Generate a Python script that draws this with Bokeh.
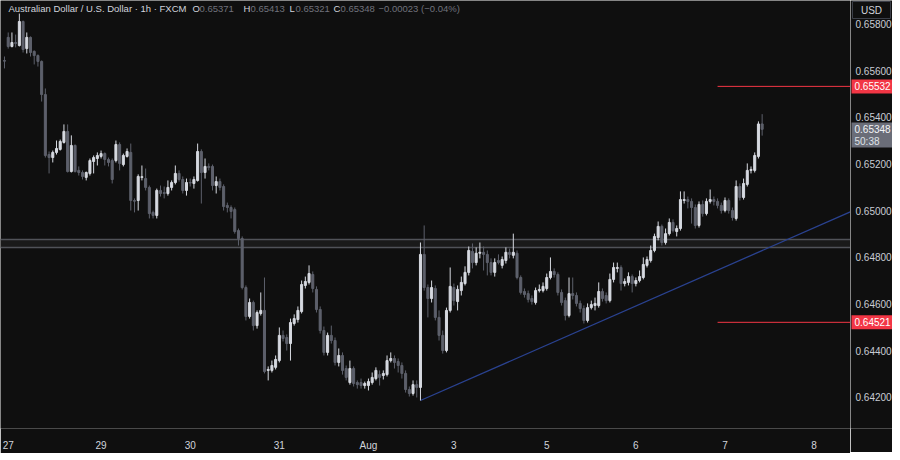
from bokeh.plotting import figure
from bokeh.layouts import row
from bokeh.models import ColumnDataSource, FixedTicker, Label, Range1d
from bokeh.core.properties import value
from bokeh.embed import file_html
from bokeh.resources import INLINE

BG = "#0f0f0f"
UP = "#d6d9e0"
DOWN = "#5d606b"
TXT = "#d1d4dc"
FONT = "Liberation Sans"

# ---- data (AUD/USD, 1h, FXCM) ----
day_labels = ["27", "29", "30", "31", "Aug", "3", "5", "6", "7", "8"]
day_ticks = [1, 26, 50, 74, 98, 121, 146, 170, 194, 218]
price_ticks = [0.642, 0.644, 0.646, 0.648, 0.650, 0.652, 0.654, 0.656, 0.658]

opens = [
    0.65643, 0.65742, 0.65703, 0.65720, 0.65707, 0.65810, 0.65694, 0.65742, 0.65682, 0.65664,
    0.65639, 0.65497, 0.65240, 0.65227, 0.65249, 0.65262, 0.65292, 0.65339, 0.65167, 0.65279,
    0.65172, 0.65163, 0.65142, 0.65159, 0.65210, 0.65223, 0.65232, 0.65244, 0.65219, 0.65214,
    0.65214, 0.65283, 0.65197, 0.65232, 0.65249, 0.65043, 0.65043, 0.65142, 0.65137, 0.65099,
    0.64992, 0.64979, 0.65086, 0.65077, 0.65073, 0.65099, 0.65120, 0.65159, 0.65133, 0.65086,
    0.65120, 0.65116, 0.65129, 0.65253, 0.65163, 0.65189, 0.65189, 0.65107, 0.65124, 0.65103,
    0.65022, 0.65013, 0.65004, 0.64914, 0.64880, 0.64670, 0.64546, 0.64606, 0.64507, 0.64559,
    0.64572, 0.64315, 0.64315, 0.64328, 0.64357, 0.64465, 0.64456, 0.64430, 0.64516, 0.64533,
    0.64567, 0.64679, 0.64692, 0.64726, 0.64662, 0.64576, 0.64486, 0.64392, 0.64465, 0.64443,
    0.64349, 0.64379, 0.64323, 0.64263, 0.64323, 0.64263, 0.64263, 0.64250, 0.64250, 0.64263,
    0.64280, 0.64297, 0.64293, 0.64297, 0.64357, 0.64366, 0.64353, 0.64336, 0.64302, 0.64233,
    0.64216, 0.64254, 0.64242, 0.64812, 0.64670, 0.64623, 0.64666, 0.64542, 0.64465, 0.64400,
    0.64572, 0.64670, 0.64610, 0.64657, 0.64687, 0.64735, 0.64825, 0.64777, 0.64817, 0.64821,
    0.64812, 0.64777, 0.64735, 0.64786, 0.64765, 0.64786, 0.64821, 0.64808, 0.64817, 0.64713,
    0.64653, 0.64644, 0.64623, 0.64606, 0.64657, 0.64657, 0.64666, 0.64713, 0.64739, 0.64726,
    0.64649, 0.64614, 0.64550, 0.64644, 0.64636, 0.64602, 0.64580, 0.64529, 0.64584, 0.64593,
    0.64593, 0.64653, 0.64636, 0.64614, 0.64705, 0.64752, 0.64756, 0.64687, 0.64692, 0.64717,
    0.64687, 0.64700, 0.64713, 0.64765, 0.64786, 0.64829, 0.64884, 0.64932, 0.64863, 0.64901,
    0.64949, 0.64910, 0.64923, 0.65043, 0.65047, 0.65039, 0.65013, 0.64936, 0.65026, 0.64987,
    0.65039, 0.65047, 0.65039, 0.65022, 0.65000, 0.65043, 0.65000, 0.64966, 0.65103, 0.65056,
    0.65112, 0.65172, 0.65172, 0.65232, 0.65371,
]
highs = [
    0.65660, 0.65763, 0.65763, 0.65754, 0.65844, 0.65814, 0.65763, 0.65746, 0.65686, 0.65669,
    0.65643, 0.65523, 0.65253, 0.65257, 0.65300, 0.65304, 0.65369, 0.65369, 0.65322, 0.65283,
    0.65189, 0.65172, 0.65167, 0.65223, 0.65236, 0.65249, 0.65257, 0.65249, 0.65227, 0.65223,
    0.65300, 0.65292, 0.65244, 0.65266, 0.65287, 0.65052, 0.65155, 0.65193, 0.65180, 0.65107,
    0.65000, 0.65094, 0.65107, 0.65103, 0.65129, 0.65129, 0.65193, 0.65172, 0.65146, 0.65137,
    0.65137, 0.65146, 0.65287, 0.65262, 0.65223, 0.65202, 0.65197, 0.65146, 0.65137, 0.65112,
    0.65034, 0.65022, 0.65013, 0.64923, 0.64889, 0.64679, 0.64623, 0.64614, 0.64572, 0.64649,
    0.64713, 0.64332, 0.64357, 0.64379, 0.64499, 0.64486, 0.64469, 0.64537, 0.64555, 0.64589,
    0.64700, 0.64717, 0.64765, 0.64739, 0.64675, 0.64589, 0.64503, 0.64477, 0.64507, 0.64456,
    0.64409, 0.64392, 0.64336, 0.64357, 0.64332, 0.64272, 0.64280, 0.64267, 0.64280, 0.64306,
    0.64328, 0.64315, 0.64315, 0.64379, 0.64392, 0.64379, 0.64366, 0.64349, 0.64315, 0.64246,
    0.64272, 0.64272, 0.64863, 0.64936, 0.64683, 0.64700, 0.64679, 0.64572, 0.64486, 0.64584,
    0.64756, 0.64687, 0.64679, 0.64717, 0.64761, 0.64846, 0.64859, 0.64842, 0.64863, 0.64846,
    0.64829, 0.64795, 0.64795, 0.64812, 0.64803, 0.64842, 0.64837, 0.64901, 0.64829, 0.64722,
    0.64666, 0.64657, 0.64636, 0.64670, 0.64683, 0.64692, 0.64730, 0.64799, 0.64752, 0.64735,
    0.64662, 0.64627, 0.64713, 0.64713, 0.64649, 0.64614, 0.64593, 0.64602, 0.64614, 0.64627,
    0.64692, 0.64666, 0.64649, 0.64730, 0.64777, 0.64777, 0.64765, 0.64709, 0.64735, 0.64726,
    0.64713, 0.64743, 0.64799, 0.64803, 0.64850, 0.64901, 0.64953, 0.64940, 0.64923, 0.64966,
    0.64962, 0.64936, 0.65082, 0.65082, 0.65060, 0.65052, 0.65026, 0.65039, 0.65043, 0.65052,
    0.65090, 0.65060, 0.65052, 0.65034, 0.65056, 0.65052, 0.65013, 0.65129, 0.65116, 0.65137,
    0.65202, 0.65189, 0.65249, 0.65382, 0.65413,
]
lows = [
    0.65609, 0.65694, 0.65699, 0.65699, 0.65703, 0.65677, 0.65673, 0.65660, 0.65626, 0.65617,
    0.65467, 0.65227, 0.65159, 0.65206, 0.65240, 0.65257, 0.65287, 0.65163, 0.65163, 0.65163,
    0.65150, 0.65133, 0.65129, 0.65150, 0.65159, 0.65193, 0.65223, 0.65193, 0.65189, 0.65116,
    0.65206, 0.65172, 0.65189, 0.65227, 0.65000, 0.64992, 0.65000, 0.65129, 0.65086, 0.64966,
    0.64966, 0.64966, 0.65060, 0.65052, 0.65064, 0.65086, 0.65112, 0.65124, 0.65073, 0.65064,
    0.65103, 0.65094, 0.65124, 0.65030, 0.65137, 0.65172, 0.65086, 0.65073, 0.65086, 0.65000,
    0.64992, 0.64966, 0.64901, 0.64850, 0.64662, 0.64529, 0.64537, 0.64486, 0.64494, 0.64550,
    0.64302, 0.64272, 0.64306, 0.64319, 0.64349, 0.64439, 0.64400, 0.64357, 0.64507, 0.64520,
    0.64559, 0.64666, 0.64683, 0.64649, 0.64563, 0.64473, 0.64379, 0.64379, 0.64430, 0.64336,
    0.64332, 0.64297, 0.64272, 0.64254, 0.64246, 0.64237, 0.64237, 0.64237, 0.64229, 0.64254,
    0.64272, 0.64250, 0.64276, 0.64289, 0.64349, 0.64323, 0.64306, 0.64280, 0.64220, 0.64203,
    0.64207, 0.64199, 0.64186, 0.64657, 0.64542, 0.64606, 0.64529, 0.64443, 0.64387, 0.64392,
    0.64563, 0.64593, 0.64572, 0.64636, 0.64679, 0.64722, 0.64752, 0.64765, 0.64795, 0.64743,
    0.64722, 0.64722, 0.64717, 0.64769, 0.64752, 0.64773, 0.64795, 0.64795, 0.64705, 0.64640,
    0.64627, 0.64606, 0.64597, 0.64597, 0.64649, 0.64649, 0.64657, 0.64705, 0.64713, 0.64636,
    0.64593, 0.64529, 0.64542, 0.64619, 0.64589, 0.64563, 0.64516, 0.64520, 0.64576, 0.64572,
    0.64584, 0.64610, 0.64602, 0.64606, 0.64692, 0.64735, 0.64657, 0.64675, 0.64679, 0.64649,
    0.64675, 0.64692, 0.64705, 0.64756, 0.64777, 0.64821, 0.64872, 0.64850, 0.64854, 0.64893,
    0.64906, 0.64889, 0.64914, 0.65030, 0.65009, 0.64944, 0.64923, 0.64927, 0.64974, 0.64979,
    0.65030, 0.65022, 0.65009, 0.64987, 0.64992, 0.64987, 0.64957, 0.64957, 0.65043, 0.65047,
    0.65103, 0.65159, 0.65163, 0.65223, 0.65321,
]
closes = [
    0.65640, 0.65703, 0.65720, 0.65716, 0.65810, 0.65690, 0.65742, 0.65677, 0.65664, 0.65639,
    0.65497, 0.65236, 0.65227, 0.65249, 0.65266, 0.65296, 0.65339, 0.65167, 0.65279, 0.65167,
    0.65163, 0.65146, 0.65163, 0.65214, 0.65227, 0.65236, 0.65244, 0.65219, 0.65206, 0.65133,
    0.65283, 0.65202, 0.65236, 0.65253, 0.65043, 0.65040, 0.65146, 0.65145, 0.65099, 0.64987,
    0.64979, 0.65086, 0.65073, 0.65073, 0.65099, 0.65120, 0.65159, 0.65133, 0.65086, 0.65120,
    0.65118, 0.65133, 0.65253, 0.65163, 0.65189, 0.65184, 0.65107, 0.65124, 0.65099, 0.65017,
    0.65013, 0.64996, 0.64910, 0.64880, 0.64670, 0.64546, 0.64606, 0.64507, 0.64563, 0.64572,
    0.64310, 0.64319, 0.64336, 0.64362, 0.64465, 0.64452, 0.64430, 0.64520, 0.64537, 0.64572,
    0.64683, 0.64696, 0.64730, 0.64666, 0.64576, 0.64486, 0.64392, 0.64465, 0.64443, 0.64349,
    0.64379, 0.64315, 0.64285, 0.64323, 0.64259, 0.64254, 0.64250, 0.64259, 0.64267, 0.64285,
    0.64315, 0.64285, 0.64302, 0.64357, 0.64366, 0.64349, 0.64336, 0.64302, 0.64233, 0.64216,
    0.64254, 0.64242, 0.64812, 0.64670, 0.64623, 0.64670, 0.64542, 0.64465, 0.64400, 0.64572,
    0.64675, 0.64614, 0.64662, 0.64692, 0.64735, 0.64829, 0.64777, 0.64817, 0.64821, 0.64812,
    0.64777, 0.64735, 0.64777, 0.64777, 0.64790, 0.64821, 0.64812, 0.64821, 0.64713, 0.64649,
    0.64640, 0.64619, 0.64610, 0.64657, 0.64662, 0.64675, 0.64713, 0.64739, 0.64726, 0.64649,
    0.64606, 0.64550, 0.64644, 0.64636, 0.64602, 0.64580, 0.64529, 0.64584, 0.64597, 0.64602,
    0.64653, 0.64623, 0.64614, 0.64705, 0.64756, 0.64756, 0.64687, 0.64696, 0.64717, 0.64687,
    0.64700, 0.64717, 0.64769, 0.64790, 0.64829, 0.64889, 0.64932, 0.64863, 0.64901, 0.64949,
    0.64914, 0.64923, 0.65047, 0.65047, 0.65039, 0.65013, 0.64936, 0.65026, 0.64987, 0.65039,
    0.65047, 0.65039, 0.65022, 0.65000, 0.65043, 0.65000, 0.64970, 0.65103, 0.65056, 0.65116,
    0.65172, 0.65176, 0.65236, 0.65371, 0.65348,
]

# drawings on the chart
zone_low, zone_high = 0.64843, 0.64878          # grey S/R zone
level_prices = [0.65532, 0.64521]                 # red horizontal levels
level_start = 192                                 # bar where the levels begin
trend_idx = [112, 230]                            # rising trendline anchors (bar index)
trend_px = [0.64186, 0.65010]
countdown = "50:38"
currency = "USD"
title_text = "Australian Dollar / U.S. Dollar \u00b7 1h \u00b7 FXCM"

# ---- layout constants ----
FRAME_H = 428
Y_TOP, Y_BOT = 0.659, 0.64066
PX = (Y_TOP - Y_BOT) / FRAME_H       # price per screen pixel
yr = Range1d(Y_BOT, Y_TOP)

# ---- main pane ----
n = len(closes)
src = ColumnDataSource(dict(
    x=list(range(n)), high=highs, low=lows,
    top=[max(o, c) for o, c in zip(opens, closes)],
    bottom=[min(o, c) for o, c in zip(opens, closes)],
    color=[UP if c >= o else DOWN for o, c in zip(opens, closes)],
))

p = figure(frame_width=850, frame_height=FRAME_H, output_backend="svg", toolbar_location=None,
           x_range=Range1d(-1.077, 227.79), y_range=yr, y_axis_location=None,
           background_fill_color=BG, border_fill_color=BG,
           min_border_left=0, min_border_top=0, min_border_right=0, min_border_bottom=24,
           outline_line_color=None)
p.grid.visible = False

p.hstrip(y0=[zone_low], y1=[zone_high], fill_color="#1a1a1a", line_color=None)
p.hspan(y=[zone_low, zone_high], line_color="#505258", line_width=1.5)

p.segment(x0=[level_start] * len(level_prices), x1=[p.x_range.end + 5] * len(level_prices),
          y0=level_prices, y1=level_prices, line_color="#f23645", line_width=1)

p.line(trend_idx, trend_px, line_color="#2a4290", line_width=1.3)

p.segment(x0="x", y0="high", x1="x", y1="low", source=src, line_color="color", line_width=1)
p.vbar(x="x", width=0.55, top="top", bottom="bottom", source=src,
       fill_color="color", line_color="color", line_width=1)

xa = p.xaxis[0]
xa.ticker = FixedTicker(ticks=day_ticks)
xa.major_label_overrides = {t: s for t, s in zip(day_ticks, day_labels)}
xa.axis_line_color = None
xa.major_tick_line_color = None
xa.minor_tick_line_color = None
xa.major_tick_out = 0
xa.major_tick_in = 0
xa.major_label_standoff = 11
xa.major_label_text_color = TXT
xa.major_label_text_font = FONT
xa.major_label_text_font_size = "10px"

# header (legend line)
chg = closes[-1] - opens[-1]
pct = chg / opens[-1] * 100
sign = "\u2212" if chg < 0 else "+"
VAL = "#6f727c"
header = [
    (8, title_text, TXT),
    (192, "O", TXT), (199, f"{opens[-1]:.5f}", VAL),
    (243, "H", TXT), (250, f"{highs[-1]:.5f}", VAL),
    (289, "L", TXT), (295, f"{lows[-1]:.5f}", VAL),
    (333, "C", TXT), (340, f"{closes[-1]:.5f}", VAL),
    (378, f"{sign}{abs(chg):.5f} ({sign}{abs(pct):.2f}%)", VAL),
]
for hx, ht, hc in header:
    p.add_layout(Label(x=hx, y=FRAME_H - 8, x_units="screen", y_units="screen", text=ht,
                       text_align="left", text_baseline="middle", text_color=hc,
                       text_font=FONT, text_font_size="9.5px"))

# ---- price scale pane (shares the price range) ----
q = figure(frame_width=42, frame_height=FRAME_H, output_backend="svg", toolbar_location=None,
           x_range=Range1d(0, 42), y_range=yr, x_axis_location=None, y_axis_location=None,
           background_fill_color=BG, border_fill_color=BG,
           min_border_left=0, min_border_top=0, min_border_right=0, min_border_bottom=24,
           outline_line_color=None)
q.grid.visible = False

q.text(x=[5] * len(price_ticks), y=price_ticks, text=[f"{t:.5f}" for t in price_ticks],
       text_font=value(FONT), text_font_size=value("10px"), text_color="#c9ccd4",
       text_align="left", text_baseline="middle")

# red level tags
q.rect(x=[22] * len(level_prices), y=level_prices, width=42, height=14,
       height_units="screen", fill_color="#f23645", line_color=None)
q.text(x=[4] * len(level_prices), y=level_prices, text=[f"{lv:.5f}" for lv in level_prices],
       text_font=value(FONT), text_font_size=value("10px"), text_color="white",
       text_align="left", text_baseline="middle")

# last price tag with bar countdown
last = closes[-1]
q.quad(left=[1], right=[43], top=[last + 6.7 * PX], bottom=[last - 18.3 * PX],
       fill_color="#6a6d78", line_color=None)
q.text(x=[4], y=[last], text=[f"{last:.5f}"], text_font=value(FONT),
       text_font_size=value("10px"), text_color="#f2f3f6",
       text_align="left", text_baseline="middle")
q.text(x=[4], y=[last], text=[countdown], y_offset=12, text_font=value(FONT),
       text_font_size=value("10px"), text_color="#dfe1e6",
       text_align="left", text_baseline="middle")

# currency box
q.rect(x=[21], y=[Y_TOP - 9.5 * PX], width=38, height=17, height_units="screen",
       fill_color=BG, line_color="#3b3e47", line_width=1)
q.text(x=[21], y=[Y_TOP - 9.5 * PX], text=[currency], text_font=value(FONT),
       text_font_size=value("10px"), text_color=TXT, text_align="center",
       text_baseline="middle")

layout = row(p, q)
open("out.html", "w").write(file_html(layout, INLINE))
